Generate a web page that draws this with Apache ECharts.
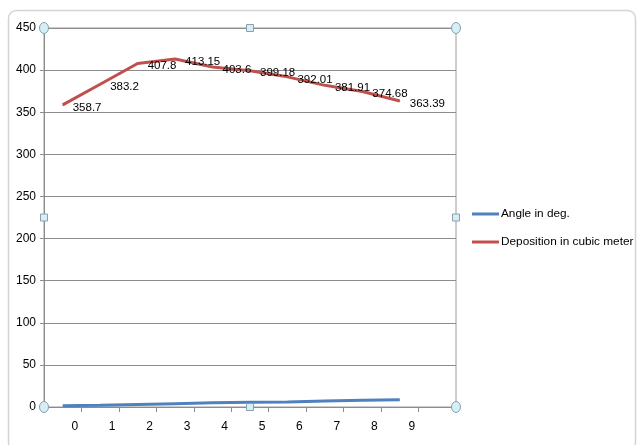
<!DOCTYPE html>
<html>
<head>
<meta charset="utf-8">
<script src="https://cdn.jsdelivr.net/npm/echarts@6/dist/echarts.min.js"></script>
<style>
html,body{margin:0;padding:0;background:#fff;}
#c{width:637px;height:445px;}
</style>
</head>
<body>
<div id="c"></div>
<script>
var categories = ['0','1','2','3','4','5','6','7','8','9',''];
var angleValues = [1.5, 2, 3, 4, 5, 5.5, 6, 7, 8, 8.5];
var depositionValues = [358.7, 383.2, 407.8, 413.15, 403.6, 399.18, 392.01, 381.91, 374.68, 363.39];
var yTicks = {min: 0, max: 450, interval: 50};
var seriesNames = ['Angle in deg.', 'Deposition in cubic meter'];

var FONT = 'Liberation Sans, Arial, sans-serif';
var chart = echarts.init(document.getElementById('c'), null, {renderer: 'canvas'});
var gridL = 44, gridT = 28, gridW = 412, gridH = 379;

chart.setOption({
  animation: false,
  backgroundColor: '#fff',
  textStyle: {fontFamily: FONT},
  grid: {left: gridL, top: gridT, width: gridW, height: gridH, show: true, borderColor: '#9a9a9a', borderWidth: 1},
  legend: {
    orient: 'vertical', left: 472, top: 208, itemWidth: 27, itemHeight: 3, itemGap: 16, padding: 0,
    icon: 'rect',
    textStyle: {fontFamily: FONT, fontSize: 11.8, color: '#000', padding: [0, 0, 0, -3]},
    data: seriesNames
  },
  xAxis: {
    type: 'category', data: categories, boundaryGap: true,
    axisLine: {lineStyle: {color: '#8c8c8c'}},
    axisTick: {show: true, length: 5, lineStyle: {color: '#8c8c8c'}},
    axisLabel: {interval: 0, margin: 14, fontSize: 12, color: '#000', fontFamily: FONT, padding: [0, 0, 0, 24]}
  },
  yAxis: {
    type: 'value', min: yTicks.min, max: yTicks.max, interval: yTicks.interval,
    axisLine: {show: true, lineStyle: {color: '#8c8c8c'}},
    axisTick: {show: true, length: 4, lineStyle: {color: '#8c8c8c'}},
    splitLine: {lineStyle: {color: '#8c8c8c'}},
    axisLabel: {margin: 8, fontSize: 12, color: '#000', fontFamily: FONT}
  },
  series: [
    {name: seriesNames[0], type: 'line', data: angleValues, symbol: 'none',
     lineStyle: {color: '#4F81BD', width: 3}, itemStyle: {color: '#4F81BD'}},
    {name: seriesNames[1], type: 'line', data: depositionValues, symbol: 'circle', symbolSize: 1, showSymbol: true,
     lineStyle: {color: '#C0504D', width: 3}, itemStyle: {color: '#C0504D'},
     label: {show: true, position: [10.5, -3], align: 'left', verticalAlign: 'top', fontSize: 11.5, color: '#000', fontFamily: FONT},
     labelLayout: {hideOverlap: false}}
  ]
});

// decorative: outer chart border and plot-area selection handles
var handles = [];
var xs = [gridL, gridL + gridW / 2, gridL + gridW];
var ys = [gridT, gridT + gridH / 2, gridT + gridH];
for (var i = 0; i < 3; i++) {
  for (var j = 0; j < 3; j++) {
    if (i === 1 && j === 1) continue;
    var corner = (i !== 1 && j !== 1);
    if (corner) {
      handles.push({type: 'ellipse', shape: {cx: xs[i], cy: ys[j], rx: 4.5, ry: 5.5}, z: 100,
        style: {fill: '#d6eef6', stroke: '#8aa0b0', lineWidth: 1}});
    } else {
      handles.push({type: 'rect', shape: {x: xs[i] - 3.5, y: ys[j] - 3.5, width: 7, height: 7}, z: 100,
        style: {fill: '#d6eef6', stroke: '#8aa0b0', lineWidth: 1}});
    }
  }
}
handles.push({type: 'rect', shape: {x: 8.5, y: 10.5, width: 627, height: 440, r: 8}, z: -1,
  style: {fill: 'none', stroke: '#d4d4d4', lineWidth: 1.5}});
chart.setOption({graphic: handles});
</script>
</body>
</html>
